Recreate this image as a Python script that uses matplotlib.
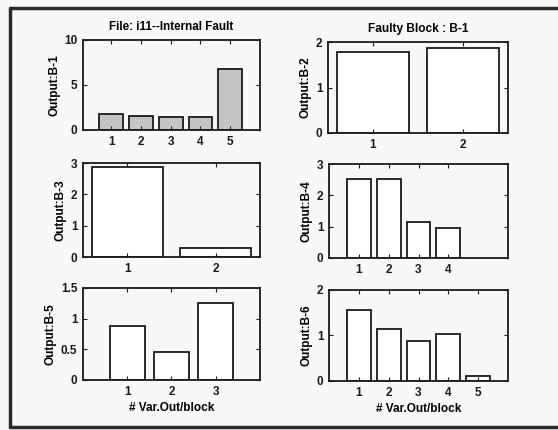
import matplotlib
matplotlib.use('Agg')
import matplotlib.pyplot as plt
from matplotlib.lines import Line2D

matplotlib.rcParams['font.family'] = ['Liberation Sans', 'DejaVu Sans']
matplotlib.rcParams['font.size'] = 8.5
# scanned print looks heavy
matplotlib.rcParams['font.weight'] = 'bold'
matplotlib.rcParams['axes.titleweight'] = 'bold'
matplotlib.rcParams['axes.labelweight'] = 'bold'

# values
b1_vals = [1.78, 1.60, 1.48, 1.48, 6.78]
b2_vals = [1.79, 1.86]
b3_vals = [2.86, 0.30]
b4_vals = [2.51, 2.51, 1.16, 0.95]
b5_vals = [0.886, 0.46, 1.25]
b6_vals = [1.56, 1.14, 0.88, 1.03, 0.10]

b1_yticks = [0, 5, 10]
b2_yticks = [0, 1, 2]
b3_yticks = [0, 1, 2, 3]
b4_yticks = [0, 1, 2, 3]
b5_yticks = [0, 0.5, 1, 1.5]
b5_ylabels = ['0', '0.5', '1', '1.5']
b6_yticks = [0, 1, 2]

title_left = 'File: i11--Internal Fault'
title_right = 'Faulty Block : B-1'
xlabel = '# Var.Out/block'

paper = '#f8f8f6'
ink = '#1a1a1a'

fig = plt.figure(figsize=(5.58, 4.30), dpi=100, facecolor=paper)

# axes boxes (left, bottom, width, height)
boxes = {
    1: [0.1487, 0.6977, 0.317, 0.2093],
    2: [0.5878, 0.6907, 0.3226, 0.2116],
    3: [0.1487, 0.4023, 0.317, 0.2186],
    4: [0.5896, 0.4000, 0.3208, 0.2186],
    5: [0.1487, 0.1163, 0.317, 0.2140],
    6: [0.5896, 0.1140, 0.3208, 0.2116],
}


def bar_panel(n, vals, ylim, yticks, xlim, fill='white', ylabels=None):
    ax = fig.add_axes(boxes[n])
    ax.set_facecolor(paper)
    x = list(range(1, len(vals) + 1))
    ax.bar(x, vals, width=0.8, color=fill, edgecolor=ink, linewidth=1.3)
    ax.set_xlim(*xlim)
    ax.set_ylim(*ylim)
    ax.set_xticks(x)
    ax.set_yticks(yticks)
    if ylabels is not None:
        ax.set_yticklabels(ylabels)
    ax.tick_params(direction='in', top=True, right=True, length=3,
                   width=0.8, colors=ink, pad=4)
    for s in ax.spines.values():
        s.set_linewidth(1.3)
        s.set_color(ink)
    ax.set_ylabel('Output:B-%d' % n, labelpad=3)
    return ax


ax1 = bar_panel(1, b1_vals, (0, 10), b1_yticks, (0.05, 6), fill='#c4c4c4')
ax1.set_title(title_left, pad=7.5, fontsize=8.4)
ax2 = bar_panel(2, b2_vals, (0, 2), b2_yticks, (0.5, 2.5))
ax2.set_title(title_right, pad=7.5, fontsize=8.6)
ax3 = bar_panel(3, b3_vals, (0, 3), b3_yticks, (0.5, 2.5))
ax4 = bar_panel(4, b4_vals, (0, 3), b4_yticks, (0, 6))
ax5 = bar_panel(5, b5_vals, (0, 1.5), b5_yticks, (0, 4), ylabels=b5_ylabels)
ax5.set_xlabel(xlabel, labelpad=3)
ax6 = bar_panel(6, b6_vals, (0, 2), b6_yticks, (0, 6))
ax6.set_xlabel(xlabel, labelpad=3)

# thick outer frame of the scanned page (right side runs off the picture)
frame_x = [1.02, 10 / 558, 10 / 558, 1.02]
frame_y = [1 - 8 / 430, 1 - 8 / 430, 1 - 427 / 430, 1 - 427 / 430]
fig.add_artist(Line2D(frame_x, frame_y, transform=fig.transFigure,
                      color='#2a2a2a', linewidth=2.5))

fig.savefig('out.png', dpi=100, facecolor=paper)
